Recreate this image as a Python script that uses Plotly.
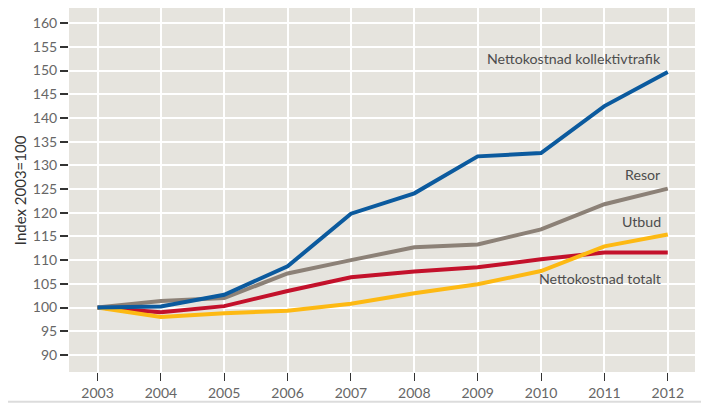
import plotly.graph_objects as go

years = [2003, 2004, 2005, 2006, 2007, 2008, 2009, 2010, 2011, 2012]

kollektivtrafik = [100, 100.2, 102.7, 108.7, 119.8, 124.1, 131.9, 132.6, 142.5, 149.7]
resor = [100, 101.4, 102.0, 107.2, 110.0, 112.7, 113.3, 116.5, 121.8, 125.1]
utbud = [100, 98.0, 98.8, 99.3, 100.8, 103.0, 104.9, 107.7, 112.9, 115.4]
totalt = [100, 99.0, 100.3, 103.5, 106.4, 107.6, 108.5, 110.2, 111.6, 111.6]

y_ticks = list(range(90, 161, 5))

series = [
    ("Nettokostnad totalt", totalt, "#c3112b"),
    ("Utbud", utbud, "#fdb913"),
    ("Resor", resor, "#8c8177"),
    ("Nettokostnad kollektivtrafik", kollektivtrafik, "#0b5a9e"),
]

fig = go.Figure()
for name, vals, col in series:
    fig.add_trace(go.Scatter(x=years, y=vals, name=name, mode="lines",
                             line=dict(color=col, width=4)))

# etiketter vid linjerna
labels = [
    ("Nettokostnad kollektivtrafik", 152.6),
    ("Resor", 128.0),
    ("Utbud", 118.1),
    ("Nettokostnad totalt", 106.2),
]
for txt, yv in labels:
    fig.add_annotation(text=txt, x=2011.93, y=yv, xref="x", yref="y", showarrow=False,
                       xanchor="right", yanchor="middle",
                       font=dict(size=14.2, color="#4d4d4d"))

# y-axelns titel
fig.add_annotation(text="Index 2003=100", x=-0.078, y=0.5, xref="paper", yref="paper",
                   textangle=-90, showarrow=False, xanchor="center", yanchor="middle",
                   font=dict(size=15, color="#333333"))

# tunn linje längst ner
fig.add_shape(type="line", xref="paper", yref="paper", x0=-0.105, x1=1.03, y0=-0.082, y1=-0.082,
              line=dict(color="#dcdcdc", width=2))

# sidan har 8 px marginal i body, därför 701x398
fig.update_layout(
    width=701, height=398,
    paper_bgcolor="white",
    plot_bgcolor="#e6e4de",
    margin=dict(l=61, r=14, t=0, b=34),
    showlegend=False,
    font=dict(family="Lato", size=14, color="#666666"),
)

fig.update_xaxes(range=[2002.55, 2012.43], tickvals=years, showgrid=True, gridcolor="white",
                 gridwidth=2, zeroline=False, showline=False, ticks="outside", ticklen=8,
                 tickcolor="#333333", tickwidth=1, tickfont=dict(size=14, color="#666666"),
                 automargin=False)
fig.update_yaxes(range=[86.4, 163.2], tickvals=y_ticks, showgrid=True, gridcolor="white",
                 gridwidth=2, zeroline=False, showline=False, ticks="outside", ticklen=8,
                 tickcolor="#333333", tickwidth=1.5, tickfont=dict(size=14, color="#666666"),
                 automargin=False)

# referenslinje vid 100
fig.add_hline(y=100, line=dict(color="#555555", width=1.2), layer="below")

fig.write_html("out.html")
